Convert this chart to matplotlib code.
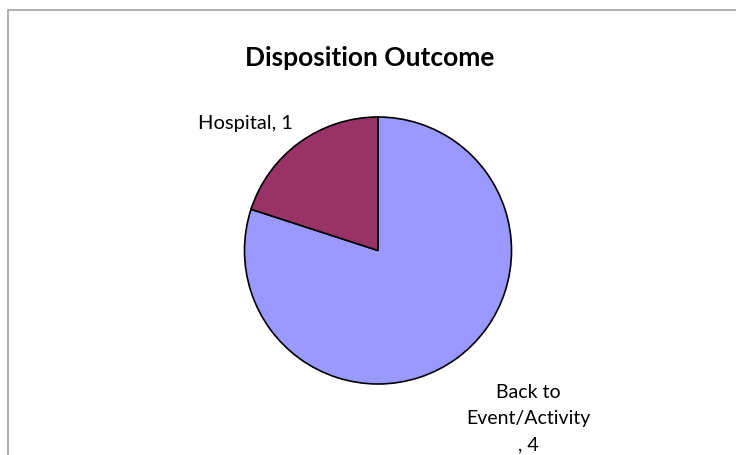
import matplotlib
matplotlib.use("Agg")
import matplotlib.pyplot as plt
from matplotlib.patches import Rectangle

# chart data
categories = ["Back to\nEvent/Activity", "Hospital"]
values = [4, 1]
colors = ["#9999FF", "#993366"]
title = "Disposition Outcome"

plt.rcParams["font.family"] = ["Lato", "DejaVu Sans"]

W, H = 736, 456
fig = plt.figure(figsize=(W / 100, H / 100), dpi=100)

# light gray chart frame (runs off the right/bottom edge)
fig.patches.append(Rectangle((8 / W, -0.1), 1.2, 1 - 11 / H + 0.1, transform=fig.transFigure,
                             fill=False, edgecolor="#A0A0A0", linewidth=1.2))

cx, cy, r = 378, 251.5, 133.5
ax = fig.add_axes([(cx - r) / W, (H - cy - r) / H, 2 * r / W, 2 * r / H])
ax.pie(values, colors=colors, startangle=90, counterclock=False, radius=1,
       wedgeprops=dict(edgecolor="black", linewidth=1.2))
ax.set_xlim(-1, 1)
ax.set_ylim(-1, 1)
ax.set_aspect("equal")
ax.axis("off")


def px(x, y):
    return (x - cx) / r, (cy - y) / r


# data labels
ax.text(*px(528, 450), f"{categories[0]}\n, {values[0]}", ha="center", va="baseline",
        fontsize=14, linespacing=1.65)
ax.text(*px(245, 129), f"{categories[1]}, {values[1]}", ha="center", va="baseline", fontsize=14.5)

fig.text(370 / W, 1 - 66 / H, title, ha="center", va="baseline", fontsize=19, fontweight="bold")

fig.savefig("out.png", dpi=100)
